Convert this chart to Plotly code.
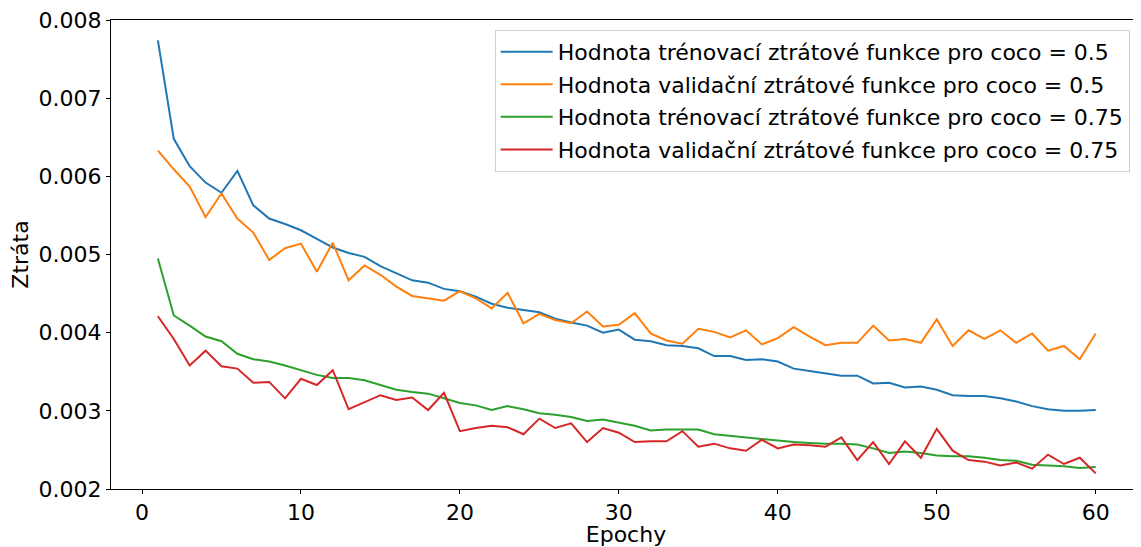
import plotly.graph_objects as go

epochs = list(range(1, 61))

train_05 = [0.00774,0.00648,0.00613,0.00592,0.00579,0.00607,0.00563,0.00546,0.00539,0.00531,
            0.00520,0.00509,0.00502,0.00497,0.00485,0.00476,0.00467,0.00464,0.00456,0.00453,
            0.00446,0.00437,0.00432,0.00429,0.00426,0.00418,0.00413,0.00409,0.00400,0.00404,
            0.00391,0.00389,0.00384,0.00383,0.00380,0.00370,0.00370,0.00365,0.00366,0.00363,
            0.00354,0.00351,0.00348,0.00345,0.00345,0.00335,0.00336,0.00330,0.00331,0.00327,
            0.00320,0.00319,0.00319,0.00316,0.00312,0.00306,0.00302,0.00300,0.00300,0.00301]

val_05 = [0.00633,0.00609,0.00587,0.00548,0.00578,0.00546,0.00528,0.00493,0.00508,0.00514,
          0.00478,0.00515,0.00467,0.00486,0.00474,0.00459,0.00447,0.00444,0.00441,0.00453,
          0.00444,0.00431,0.00451,0.00412,0.00424,0.00416,0.00412,0.00427,0.00408,0.00410,
          0.00425,0.00399,0.00390,0.00386,0.00405,0.00401,0.00394,0.00403,0.00385,0.00393,
          0.00407,0.00395,0.00384,0.00387,0.00387,0.00409,0.00390,0.00392,0.00387,0.00417,
          0.00383,0.00403,0.00392,0.00403,0.00387,0.00399,0.00377,0.00383,0.00366,0.00399]

train_075 = [0.00495,0.00422,0.00409,0.00395,0.00389,0.00373,0.00366,0.00363,0.00358,0.00352,
             0.00346,0.00342,0.00342,0.00339,0.00333,0.00327,0.00324,0.00322,0.00316,0.00310,
             0.00307,0.00301,0.00306,0.00302,0.00297,0.00295,0.00292,0.00287,0.00289,0.00285,
             0.00281,0.00275,0.00276,0.00276,0.00276,0.00270,0.00268,0.00266,0.00264,0.00262,
             0.00260,0.00259,0.00258,0.00258,0.00257,0.00252,0.00246,0.00248,0.00246,0.00243,
             0.00242,0.00242,0.00240,0.00237,0.00236,0.00231,0.00230,0.00229,0.00227,0.00228]

val_075 = [0.00421,0.00392,0.00358,0.00377,0.00357,0.00354,0.00336,0.00337,0.00316,0.00341,
           0.00333,0.00352,0.00302,0.00311,0.00320,0.00314,0.00317,0.00301,0.00323,0.00274,
           0.00278,0.00281,0.00279,0.00270,0.00290,0.00278,0.00284,0.00260,0.00278,0.00272,
           0.00260,0.00261,0.00261,0.00274,0.00254,0.00258,0.00252,0.00249,0.00263,0.00252,
           0.00257,0.00256,0.00254,0.00266,0.00237,0.00260,0.00232,0.00261,0.00240,0.00277,
           0.00249,0.00237,0.00235,0.00230,0.00234,0.00226,0.00244,0.00232,0.00240,0.00220]

series = [
    ("Hodnota trénovací ztrátové funkce pro coco = 0.5", train_05, "#1f77b4"),
    ("Hodnota validační ztrátové funkce pro coco = 0.5", val_05, "#ff7f0e"),
    ("Hodnota trénovací ztrátové funkce pro coco = 0.75", train_075, "#2ca02c"),
    ("Hodnota validační ztrátové funkce pro coco = 0.75", val_075, "#d62728"),
]

x_ticks = [0, 10, 20, 30, 40, 50, 60]
y_ticks = [0.002, 0.003, 0.004, 0.005, 0.006, 0.007, 0.008]

fig = go.Figure()
for i, (name, vals, color) in enumerate(series):
    fig.add_trace(go.Scatter(x=epochs, y=vals, mode="lines", name=name,
                             legendgroup=f"g{i}",
                             line=dict(color=color, width=2)))

font = dict(family="DejaVu Sans", size=22, color="black")

# page body has an 8px margin, so the figure is 8px smaller than the window
fig.update_layout(
    width=1133, height=539,
    margin=dict(l=103, r=0, t=12, b=58, autoexpand=False),
    paper_bgcolor="white", plot_bgcolor="white",
    font=font,
    showlegend=True,
    legend=dict(
        x=0.989, y=0.979, xanchor="right", yanchor="top",
        bgcolor="rgba(255,255,255,0.8)", bordercolor="#d0d0d0", borderwidth=1,
        font=dict(family="DejaVu Sans", size=22, color="black"),
        tracegroupgap=1, itemwidth=52,
    ),
    xaxis=dict(
        range=[-1.95, 62.85], tickvals=x_ticks, ticktext=[str(v) for v in x_ticks],
        showgrid=False, zeroline=False,
        showline=True, linecolor="black", linewidth=1, mirror=True,
        ticks="outside", ticklen=4, tickcolor="black", tickwidth=1,
        ticklabeloverflow="allow",
        title=dict(text="Epochy", font=font, standoff=0),
    ),
    yaxis=dict(
        range=[0.002, 0.008], tickvals=y_ticks, ticktext=[f"{v:.3f}" for v in y_ticks],
        showgrid=False, zeroline=False,
        showline=True, linecolor="black", linewidth=1,
        ticks="outside", ticklen=4, tickcolor="black", tickwidth=1,
        ticklabeloverflow="allow",
        title=dict(text="Ztráta", font=font, standoff=8),
    ),
)

fig.write_html("out.html")
